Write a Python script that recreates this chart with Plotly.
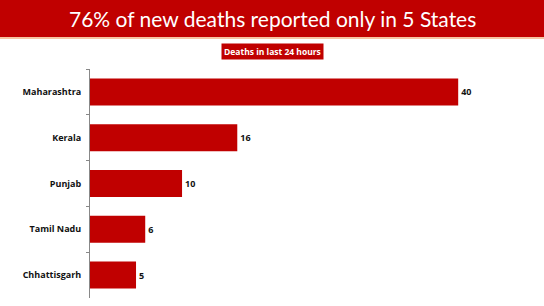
import plotly.graph_objects as go

states = ["Maharashtra", "Kerala", "Punjab", "Tamil Nadu", "Chhattisgarh"]
deaths = [40, 16, 10, 6, 5]
title_text = "76% of new deaths reported only in 5 States"
subtitle_text = "Deaths in last 24 hours"

RED = "#C00000"
TOP, BOT = 69, 298
H = BOT - TOP


def py(p):
    # pixel row -> paper y
    return (BOT - p) / H


fig = go.Figure(go.Bar(
    x=deaths, y=states, orientation="h",
    marker=dict(color=RED, line=dict(width=0)),
    width=0.59,
    text=[str(v) for v in deaths], textposition="outside",
    textfont=dict(family="Open Sans", size=9, color="#111111", weight="bold"),
    cliponaxis=False,
))

fig.update_layout(
    width=544, height=306,
    margin=dict(l=90, r=14, t=TOP, b=306 - BOT),
    paper_bgcolor="white", plot_bgcolor="white",
    showlegend=False,
    xaxis=dict(range=[0, 47.8], visible=False, showgrid=False, zeroline=False),
    yaxis=dict(
        categoryorder="array", categoryarray=states, autorange="reversed",
        showline=True, linecolor="#888888", linewidth=1,
        ticks="outside", tickson="boundaries", ticklen=3, tickcolor="#888888",
        showgrid=False, zeroline=False,
        tickfont=dict(family="Open Sans", size=9, color="#111111", weight="bold"),
        ticklabelstandoff=6,
    ),
    shapes=[
        dict(type="rect", xref="paper", yref="paper", x0=-1, x1=2,
             y0=py(37), y1=py(-5),
             fillcolor=RED, line=dict(width=0), layer="above"),
        dict(type="line", xref="paper", yref="paper", x0=-1, x1=2,
             y0=py(38), y1=py(38),
             line=dict(color="#F4B183", width=1.5)),
    ],
    annotations=[
        dict(text=title_text, xref="paper", yref="paper",
             x=(272 - 90) / 440, y=py(18),
             showarrow=False, xanchor="center", yanchor="middle",
             font=dict(family="Lato", size=21, color="white")),
        dict(text="<b>" + subtitle_text + "</b>", xref="paper", yref="paper",
             x=(272 - 90) / 440, y=py(51.5),
             showarrow=False, xanchor="center", yanchor="middle",
             bgcolor=RED, borderpad=2,
             font=dict(family="Open Sans", size=8.5, color="white")),
    ],
)

fig.write_html("out.html")
